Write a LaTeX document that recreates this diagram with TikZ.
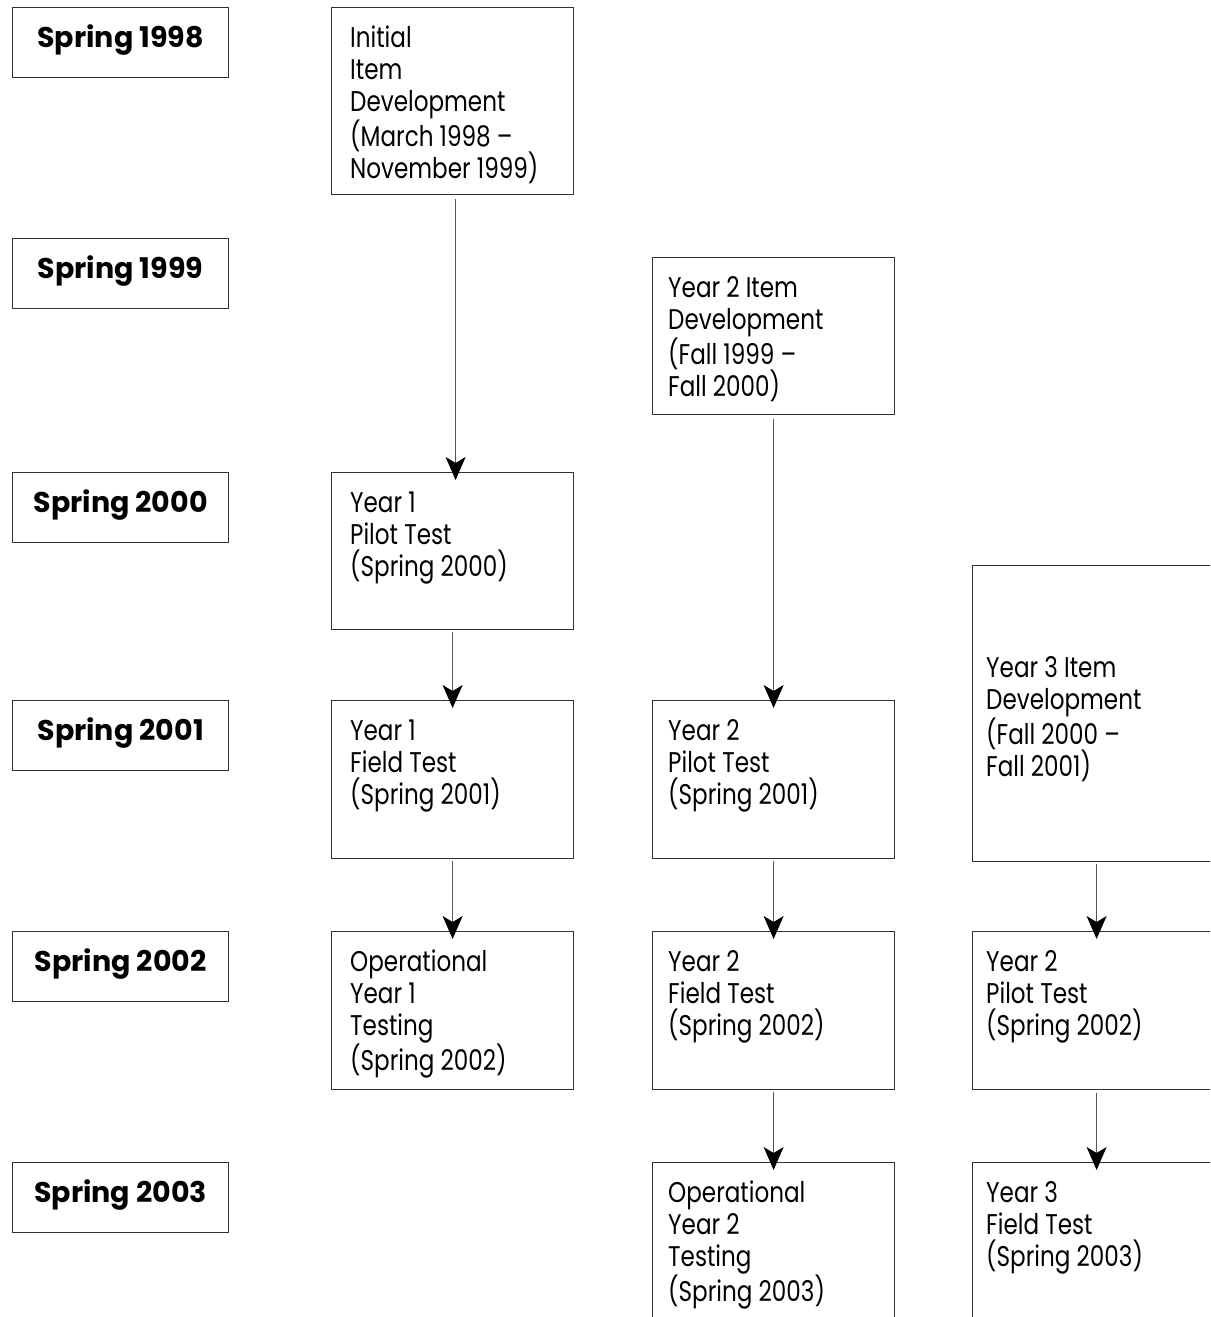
\documentclass[tikz,border=0pt]{standalone}
\usepackage{fontspec}
\setmainfont{Poppins}[FakeStretch=0.81,Numbers=Monospaced]
\newfontfamily\labfont{Poppins}[FakeStretch=1.0,Numbers=Monospaced]
\usetikzlibrary{arrows.meta}
\definecolor{boxline}{RGB}{50,50,50}
\definecolor{arrline}{RGB}{85,85,85}
\tikzset{
  lab/.style={draw=boxline, line width=1.2pt, rectangle, anchor=north west, inner sep=0pt, minimum width=216pt, minimum height=70pt},
  labtxt/.style={anchor=base, inner sep=0pt, font=\labfont\bfseries\fontsize{28.5}{32}\selectfont},
  box/.style={draw=boxline, line width=1.2pt, rectangle, anchor=north west, inner sep=0pt, minimum width=242pt},
  boxw/.style={box, minimum width=248pt},
  txt/.style={anchor=north west, inner sep=0pt, align=left, font=\fontsize{28.5}{32}\selectfont},
  arr/.style={draw=arrline, line width=1pt, -{Stealth[length=23pt,width=20pt,inset=6pt,color=black,fill=black]}}
}
\begin{document}
\begin{tikzpicture}[x=1pt,y=-1pt]
\useasboundingbox (0,0) rectangle (1210,1317);
\clip (0,0) rectangle (1210,1317);
\fill[white] (0,0) rectangle (1210,1317);

% year labels
\node[lab] (l98) at (12,7) {};
\node[lab] (l99) at (12,238) {};
\node[lab] (l00) at (12,472) {};
\node[lab] (l01) at (12,700) {};
\node[lab] (l02) at (12,931) {};
\node[lab] (l03) at (12,1162) {};
\node[labtxt] (tl98) at ([shift={(0,40)}]l98.north) {Spring 1998};
\node[labtxt] (tl99) at ([shift={(0,40)}]l99.north) {Spring 1999};
\node[labtxt] (tl00) at ([shift={(0,40)}]l00.north) {Spring 2000};
\node[labtxt] (tl01) at ([shift={(0,40)}]l01.north) {Spring 2001};
\node[labtxt] (tl02) at ([shift={(0,40)}]l02.north) {Spring 2002};
\node[labtxt] (tl03) at ([shift={(0,40)}]l03.north) {Spring 2003};

% column 1
\node[box, minimum height=187pt] (init) at (331,7) {};
\node[box, minimum height=157pt] (p1) at (331,472) {};
\node[box, minimum height=158pt] (f1) at (331,700) {};
\node[box, minimum height=158pt] (o1) at (331,931) {};
% column 2
\node[box, minimum height=157pt] (d2) at (652,257) {};
\node[box, minimum height=158pt] (p2) at (652,700) {};
\node[box, minimum height=158pt] (f2) at (652,931) {};
\node[box, minimum height=170pt] (o2) at (652,1162) {};
% column 3
\node[boxw, minimum height=296pt] (d3) at (972,565) {};
\node[boxw, minimum height=158pt] (p3) at (972,931) {};
\node[boxw, minimum height=170pt] (f3) at (972,1162) {};

% texts
\node[txt] (tinit) at ([shift={(19,17.6)}]init.north west) {\strut Initial\\Item\\Development\\(March 1998 –\\November 1999)};
\node[txt] (tp1) at ([shift={(19,17.6)}]p1.north west) {\strut Year 1\\Pilot Test\\(Spring 2000)};
\node[txt] (tf1) at ([shift={(19,17.6)}]f1.north west) {\strut Year 1\\Field Test\\(Spring 2001)};
\node[txt] (to1) at ([shift={(19,17.6)}]o1.north west) {\strut Operational\\Year 1\\Testing\\(Spring 2002)};
\node[txt] (td2) at ([shift={(16,17.6)}]d2.north west) {\strut Year 2 Item\\Development\\(Fall 1999 –\\Fall 2000)};
\node[txt] (tp2) at ([shift={(16,17.6)}]p2.north west) {\strut Year 2\\Pilot Test\\(Spring 2001)};
\node[txt] (tf2) at ([shift={(16,17.6)}]f2.north west) {\strut Year 2\\Field Test\\(Spring 2002)};
\node[txt] (to2) at ([shift={(16,17.6)}]o2.north west) {\strut Operational\\Year 2\\Testing\\(Spring 2003)};
\node[txt] (td3) at ([shift={(14,89.6)}]d3.north west) {\strut Year 3 Item\\Development\\(Fall 2000 –\\Fall 2001)};
\node[txt] (tp3) at ([shift={(14,17.6)}]p3.north west) {\strut Year 2\\Pilot Test\\(Spring 2002)};
\node[txt] (tf3) at ([shift={(14,17.6)}]f3.north west) {\strut Year 3\\Field Test\\(Spring 2003)};

% arrows
\draw[arr] ([xshift=3pt,yshift=-4pt]init.south) -- ([xshift=3pt,yshift=-8pt]p1.north);
\draw[arr] ([yshift=-2pt]p1.south) -- ([yshift=-8pt]f1.north);
\draw[arr] ([yshift=-2pt]f1.south) -- ([yshift=-8pt]o1.north);
\draw[arr] ([yshift=-4pt]d2.south) -- ([yshift=-8pt]p2.north);
\draw[arr] ([yshift=-2pt]p2.south) -- ([yshift=-8pt]f2.north);
\draw[arr] ([yshift=-2pt]f2.south) -- ([yshift=-8pt]o2.north);
\draw[arr] ([yshift=-2pt]d3.south) -- ([yshift=-8pt]p3.north);
\draw[arr] ([yshift=-3pt]p3.south) -- ([yshift=-8pt]f3.north);
\end{tikzpicture}
\end{document}
